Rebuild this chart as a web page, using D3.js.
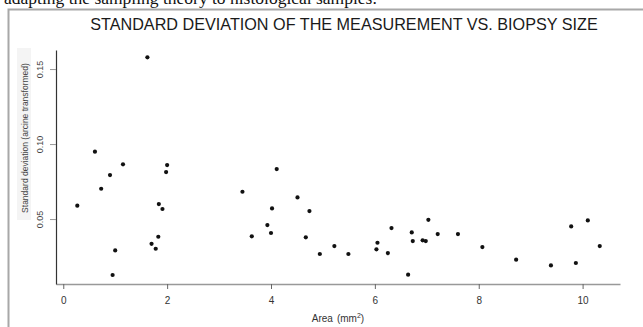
<!DOCTYPE html>
<html>
<head>
<meta charset="utf-8">
<script src="https://cdn.jsdelivr.net/npm/d3@7/dist/d3.min.js"></script>
<style>
  html, body { margin: 0; padding: 0; background: #fff; }
  svg { display: block; }
</style>
</head>
<body>
<script>
// Data
const area = [1.62, 0.61, 1.15, 2.00, 1.98, 0.90, 0.73, 0.27, 1.84, 1.91, 3.45, 3.63, 1.83, 1.00, 1.70, 1.78, 0.95,
              4.11, 4.02, 3.93, 4.00, 4.51, 4.74, 4.67, 4.94, 5.22, 5.49, 6.03, 6.05, 6.25, 6.32, 6.64, 6.71, 6.73,
              6.92, 6.98, 7.03, 7.21, 7.60, 8.07, 8.72, 9.39, 9.78, 9.87, 10.10, 10.33];
const sdev = [0.1578, 0.0949, 0.0865, 0.0860, 0.0813, 0.0793, 0.0702, 0.0589, 0.0600, 0.0567, 0.0682, 0.0385, 0.0382, 0.0291, 0.0335, 0.0302, 0.0127,
              0.0833, 0.0571, 0.0460, 0.0407, 0.0644, 0.0553, 0.0378, 0.0267, 0.0320, 0.0267, 0.0298, 0.0342, 0.0273, 0.0440, 0.0129, 0.0411, 0.0353,
              0.0358, 0.0353, 0.0495, 0.0400, 0.0400, 0.0313, 0.0229, 0.0191, 0.0451, 0.0207, 0.0491, 0.0320];
const xTicks = [0, 2, 4, 6, 8, 10];
const yTicks = [0.05, 0.10, 0.15];
const yTickLabels = ["0.05", "0.10", "0.15"];
const titleText = "STANDARD DEVIATION OF THE MEASUREMENT VS. BIOPSY SIZE";
const captionText = "adapting the sampling theory to histological samples.";
const yLabel = "Standard deviation (arcine transformed)";

const W = 643, H = 327;
const svg = d3.select("body").append("svg").attr("width", W).attr("height", H);

// caption text cut at top (as in the reference)
svg.append("text").attr("x", 4).attr("y", 4)
  .attr("font-family", "Liberation Serif, serif").attr("font-size", 17.5).attr("fill", "#111")
  .text(captionText);

// frame
svg.append("path").attr("d", `M8.5,${H} V9.5 H${W}`)
  .attr("fill", "none").attr("stroke", "#a8a8a8").attr("stroke-width", 2);

// title
svg.append("text").attr("x", 344).attr("y", 30).attr("text-anchor", "middle")
  .attr("font-family", "Liberation Sans, Arial, sans-serif").attr("font-size", 16.2).attr("fill", "#1a1a1a")
  .text(titleText);

const x = d3.scaleLinear().domain([-0.14, 10.72]).range([56, 620]);
const y = d3.scaleLinear().domain([0.0067, 0.1627]).range([284, 50]);

// faint box behind y label
svg.append("rect").attr("x", 17).attr("y", 48).attr("width", 14).attr("height", 172).attr("fill", "#f4f4f4");

// x axis
const gx = svg.append("g").attr("transform", "translate(0,284)")
  .call(d3.axisBottom(x).tickValues(xTicks).tickSize(5).tickSizeOuter(0).tickPadding(8).tickFormat(d3.format("d")));
gx.select(".domain").attr("stroke", "#999").attr("stroke-width", 1.5);
gx.selectAll(".tick line").attr("stroke", "#666");
gx.selectAll(".tick text").attr("font-family", "Liberation Sans, Arial, sans-serif").attr("font-size", 10).attr("fill", "#333");

// y axis
const gy = svg.append("g").attr("transform", "translate(56,0)")
  .call(d3.axisLeft(y).tickValues(yTicks).tickSize(6).tickSizeOuter(0).tickFormat((d, i) => yTickLabels[i]));
gy.select(".domain").attr("stroke", "#333").attr("stroke-width", 1.2);
gy.selectAll(".tick line").attr("stroke", "#999");
gy.selectAll(".tick text")
  .attr("x", null).attr("dy", null)
  .attr("transform", "translate(-13,0) rotate(-90)")
  .attr("text-anchor", "middle")
  .attr("font-family", "Liberation Sans, Arial, sans-serif").attr("font-size", 9).attr("fill", "#444");

// points
svg.append("g").selectAll("circle").data(area.map((a, i) => [a, sdev[i]])).join("circle")
  .attr("cx", d => x(d[0])).attr("cy", d => y(d[1])).attr("r", 2.1).attr("fill", "#111");

// x label
const xl = svg.append("text").attr("x", 338).attr("y", 322).attr("text-anchor", "middle")
  .attr("font-family", "Liberation Sans, Arial, sans-serif").attr("font-size", 10).attr("fill", "#333");
xl.append("tspan").text("Area");
xl.append("tspan").attr("dx", 4).text("(mm");
xl.append("tspan").attr("dy", -4).attr("font-size", 7).text("2");
xl.append("tspan").attr("dy", 4).text(")");

// y label
svg.append("text").attr("transform", "translate(28,138) rotate(-90)").attr("text-anchor", "middle")
  .attr("font-family", "Liberation Sans, Arial, sans-serif").attr("font-size", 8.5).attr("fill", "#444")
  .text(yLabel);
</script>
</body>
</html>
